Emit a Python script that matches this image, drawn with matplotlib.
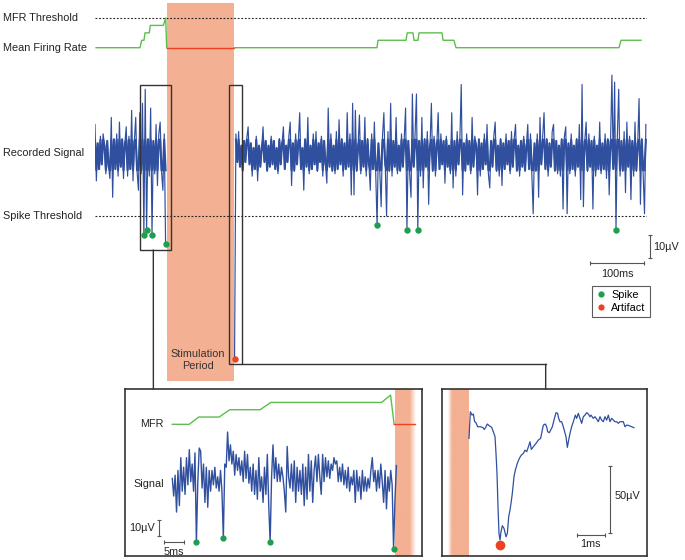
import numpy as np
import matplotlib.pyplot as plt
import matplotlib.transforms as mtrans
from matplotlib.patches import Rectangle, ConnectionPatch
from matplotlib.lines import Line2D

plt.rcParams['font.family'] = ['Liberation Sans', 'DejaVu Sans']
plt.rcParams['font.size'] = 7.8

# ---- data ----
# recorded signal in uV, one sample every 2.5 ms
sig_dt = 2.5
sig_pre_t0 = 0.0
sig_pre = [13, -11, 5, -6, 8, -4, 9, 4, -8, 6,
           -5, -10, 16, -18, 7, -6, 9, -9, 14, -5,
           7, -10, 5, 12, -9, 8, -6, 19, -11, 6,
           16, -7, -15, 18, -8, 22, -34, 28, -32, 7,
           -9, 20, -34, 6, -8, 13, -13, 9, 14, -7,
           -15, 9, -38]
sig_post_t0 = 257.0
sig_post = [-87, 9, -3, 10, -5, 4, -7, 6, -3, 7,
            12, -4, 5, -9, 3, -6, 8, -11, 4, -5,
            3, 12, -3, 6, -7, 4, -5, 8, -4, 6,
            -6, 3, -8, 7, -4, 5, 12, -6, 4, -3,
            8, 14, -13, 5, -7, 9, -4, 6, 18, -6,
            3, -15, 7, -5, 16, -8, 4, -6, 9, -4,
            10, -7, 5, -3, 8, -9, 6, -4, -12, 20,
            -5, 9, -7, 4, -8, 10, -6, 15, -4, 7,
            -9, 5, -6, 18, -5, 9, -17, 22, -17, 19,
            -7, 4, 17, -8, 6, -5, 16, -9, 7, -4,
            -15, 9, -6, 14, -8, -30, 5, -7, -22, 8,
            18, -4, -26, 10, -7, 22, -9, 6, -5, 16,
            -8, 4, -7, 9, -5, 7, 20, -32, 6, -8,
            -18, 26, -5, 9, 26, -32, 6, -9, 16, -14,
            7, -5, 10, -21, 4, 22, -7, 8, -9, 5,
            18, -6, 9, -4, 6, -12, 8, -5, 4, -8,
            18, -14, 6, -9, 10, -4, 7, 30, -17, 5,
            -7, 9, -4, 6, -8, 16, -5, 8, 4, -17,
            7, -9, 5, -6, 9, -4, 13, -8, -14, 6,
            -5, 8, 14, -7, 4, -9, 7, -13, 5, -6,
            9, -4, 6, -8, 10, -5, 7, 13, -7, 4,
            -9, 6, -5, 8, -7, 4, 13, -6, 9, -8,
            -25, 5, -7, 9, -18, 16, -4, 8, 18, -6,
            7, -9, 5, -5, 10, 13, -7, 6, -8, 4,
            -9, 7, -23, 8, 12, -25, 5, -8, 9, -6,
            4, -9, 7, -5, 13, -19, 30, -22, 6, 14,
            -7, 9, -5, 6, -23, 8, -9, 4, -6, 14,
            -8, 5, -6, 9, -10, 7, -17, 6, 34, -6,
            31, -32, 8, 28, -9, 6, -7, 10, -16, 14,
            -5, 8, -19, 6, -9, 14, -7, 5, 24, -21,
            7, -8, -25, 13]

stim_start, stim_end = 132.0, 256.0
spike_thresh = -26.0
artifact_level = -60.0
mfr_thresh = 10.0

# mean firing rate (arbitrary units, threshold = 10)
mfr_pre_t = [2, 82.9, 86, 90.2, 92.1, 100, 101.8, 125.8, 130.2, 132]
mfr_pre_v = [0, 0, 2.5, 2.5, 5, 5, 7.5, 7.5, 10, 0]
mfr_stim_t = [132, 256]
mfr_stim_v = [0, 0]
mfr_post_t = [256, 519.3, 521.2, 572.7, 575, 585.6, 587.5, 594.8, 596.7,
              639, 641, 661.1, 664.8, 965, 968.7, 1005.5]
mfr_post_v = [0, 0, 2.5, 2.5, 5, 5, 2.5, 2.5, 5, 5, 2.5, 2.5, 0, 0, 2.5, 2.5]

# zoomed window before the stimulation (ms from window start, uV)
zoom_dt = 0.36
zoom_sig = [1, -10, 3, -20, 6, -16, 14, -7, 8, -9,
            14, -3, 19, -1, 10, -7, 17, -39, -1, 20,
            18, -5, 10, -14, 8, -17, 6, -7, 6, -3,
            8, -5, 2, -7, 6, -7, -36, 10, 8, 30,
            12, 22, 10, 18, 3, 16, 6, 14, 3, 12,
            -1, 18, 1, 16, -2, 8, -7, 10, -9, 6,
            -12, 14, -7, 2, -14, 8, -9, 16, -16, -39,
            2, 22, 1, 14, -1, 10, -1, 8,
            2, -7, -20, 21, 2, -5, 10, -7, 12, -14,
            8, -7, 6, -9, 10, -16, 8, -12, 16, -7,
            12, -14, 6, 15, -1, 16, 2, -9, 16, -1,
            14, 2, 12, 1, 10, 6, 14, 10, 12, -1,
            8, -1, 10, -3, 6, -5, 8, -7, 2, -3,
            6, -14, 6, -7, 2, -12, 6, -7, 2, -7,
            1, -5, 6, 14, -1, 6, -7, 6, -5, 10,
            -1, -14, 6, -18, 2, -7, 6, -3, -43, -12,
            9]
zoom_thresh = -30.0
zoom_mfr_t = [0, 4.3, 6.7, 11.9, 14.6, 22.3, 25, 53.1, 55.4, 56.3]
zoom_mfr_v = [0, 0, 2.5, 2.5, 5, 5, 7.5, 7.5, 10, 0]
zoom_mfr_stim_t = [56.3, 61.6]
zoom_mfr_stim_v = [0, 0]

# artifact right after the stimulation (ms, uV)
art_t = [0, 0.047, 0.106, 0.153, 0.2, 0.247, 0.306, 0.389, 0.483, 0.542,
         0.601, 0.648, 0.718, 0.801, 0.86, 0.919, 0.954, 0.989, 1.025, 1.06,
         1.095, 1.131, 1.178, 1.237, 1.307, 1.355, 1.402, 1.449, 1.484, 1.531,
         1.59, 1.637, 1.708, 1.779, 1.849, 1.92, 1.979, 2.038, 2.108, 2.155,
         2.203, 2.273, 2.367, 2.45, 2.532, 2.627, 2.697, 2.744, 2.78, 2.839,
         2.886, 2.945, 3.004, 3.074, 3.133, 3.168, 3.216, 3.274, 3.333, 3.38,
         3.428, 3.475, 3.522, 3.569, 3.628, 3.687, 3.757, 3.804, 3.863, 3.922,
         3.981, 4.04, 4.099, 4.158, 4.217, 4.276, 4.311, 4.393, 4.452, 4.511,
         4.57, 4.629, 4.688, 4.747, 4.806, 4.865, 4.923, 4.982, 5.041, 5.1,
         5.159, 5.218, 5.277, 5.336, 5.395, 5.454, 5.512, 5.571, 5.63, 5.689,
         5.748, 5.83]
art_v = [-12.3, 7.4, 4.9, 5.7, 0, -0.7, -3.7, -3.7, -4.2, -5.7,
         -3.7, -1.7, -3.0, -4.2, -7.4, -11.1, -23.4, -38.2, -62.9, -82.6,
         -87.5, -81.4, -76.9, -78.9, -85.1, -82.6, -70.3, -65.3, -60.4, -53,
         -40.7, -35.8, -30.8, -27.1, -24.7, -23.4, -21, -22.2, -18, -14.8,
         -20.5, -18.5, -16, -13.6, -12.3, -2.5, -1.7, -3.7, -7.4, -8.1,
         -6.2, -3.7, 1.2, 6.7, 6.2, 2.5, 0, 0, -3.7, -7.4,
         -11.1, -19, -13.6, -8.6, -3.7, 0, 4.9, 2.5, 6.2, 2.5,
         -1.2, 3.7, 4.9, 6.7, 5.7, 3.7, 4.9, 2.5, 3.7, 2,
         0, 3.7, 1.2, 0, 3.7, 1.2, 4.9, 0, 2.5, 1.2,
         0, 0, -1.2, 0, 0, 0, -3.7, -2.5, -2.7, -3.2,
         -3.7, -4.4]

# ---- style ----
blue = '#30509f'
green_line = '#5cbf4c'
green_dot = '#1e9e4e'
red = '#ec4224'
pink = '#f4b092'
dark = '#333333'
grey = '#555555'
txt = '#222222'

W, H = 685, 560


def rect(x0, y0, x1, y1):
    return [x0 / W, 1 - y1 / H, (x1 - x0) / W, (y1 - y0) / H]


fig = plt.figure(figsize=(6.85, 5.6), dpi=100)

# ---- top overview ----
ax = fig.add_axes(rect(95, 3, 647, 381))
ax.set_xlim(0, 1016.6)
ax.set_ylim(-96.2, 64.7)
ax.axis('off')
ax_m = fig.add_axes(rect(95, 3, 647, 381), sharex=ax)
ax_m.set_ylim(-112.2, 15.05)
ax_m.axis('off')

ax.axvspan(stim_start, stim_end, color=pink, lw=0, zorder=0)

core_lim = 6.5  # dense part of the noise band drawn a bit heavier
for t0, sig in [(sig_pre_t0, sig_pre), (sig_post_t0, sig_post)]:
    s = np.array(sig, dtype=float)
    t = t0 + sig_dt * np.arange(len(s))
    ax.plot(t, s, color=blue, lw=0.85, zorder=2)
    core = s[1:] if t0 > 0 else s
    ax.plot(t[len(s) - len(core):], np.clip(core, -core_lim, core_lim),
            color=blue, lw=1.5, zorder=2)
    spk = (s < spike_thresh) & (s > artifact_level)
    art = s <= artifact_level
    ax.plot(t[spk], s[spk], 'o', color=green_dot, ms=4.6, mec='none', zorder=5)
    ax.plot(t[art], s[art], 'o', color=red, ms=4.6, mec='none', zorder=5)

ax.axhline(spike_thresh, color=txt, lw=0.8, ls=(0, (1.6, 1.6)), zorder=3)
ax_m.axhline(mfr_thresh, color=txt, lw=0.8, ls=(0, (1.6, 1.6)))
ax_m.plot(mfr_pre_t, mfr_pre_v, color=green_line, lw=1.0)
ax_m.plot(mfr_stim_t, mfr_stim_v, color=red, lw=1.0)
ax_m.plot(mfr_post_t, mfr_post_v, color=green_line, lw=1.0)

lab = mtrans.blended_transform_factory(fig.transFigure, ax.transData)
lab_m = mtrans.blended_transform_factory(fig.transFigure, ax_m.transData)
ax_m.text(3 / W, mfr_thresh, 'MFR Threshold', transform=lab_m, va='center', color=txt)
ax_m.text(3 / W, 0, 'Mean Firing Rate', transform=lab_m, va='center', color=txt)
ax.text(3 / W, 1, 'Recorded Signal', transform=lab, va='center', color=txt)
ax.text(3 / W, spike_thresh, 'Spike Threshold', transform=lab, va='center', color=txt)

ax.text(189.6, -87.4, 'Stimulation\nPeriod', ha='center', va='center',
        linespacing=1.25, color=dark)

# boxes marking the zoomed windows
ax.add_patch(Rectangle((83.4, -40.4), 57.1, 70.3, fill=False, ec=dark, lw=1.0, zorder=4))
ax.add_patch(Rectangle((247.3, -89.1), 22.9, 119.0, fill=False, ec=dark, lw=1.0, zorder=4))
ax.plot([270.2, 830], [-89.1, -89.1], color=dark, lw=1.0, zorder=4)

# scale bars
ax.plot([1022, 1022], [-34, -44], color=grey, lw=0.8, clip_on=False)
ax.plot([1022, 1022], [-34, -44], ls='none', marker='_', ms=3, mew=0.8, color=grey, clip_on=False)
ax.text(1028, -39, '10µV', va='center', ha='left', color=txt, clip_on=False)
ax.plot([911.6, 1011.6], [-46, -46], color=grey, lw=0.8)
ax.plot([911.6, 1011.6], [-46, -46], ls='none', marker='|', ms=3, mew=0.8, color=grey)
ax.text(961.6, -50.5, '100ms', ha='center', va='center', color=txt)

handles = [Line2D([], [], ls='none', marker='o', color=green_dot, ms=4.5, mec='none'),
           Line2D([], [], ls='none', marker='o', color=red, ms=4.5, mec='none')]
leg = fig.legend(handles, ['Spike', 'Artifact'], loc='upper left',
                 bbox_to_anchor=(592.3 / W, 1 - 285.7 / H), fancybox=False,
                 edgecolor=dark, handlelength=0.8, handletextpad=0.55,
                 borderpad=0.4, labelspacing=0.25, borderaxespad=0, fontsize=7.8)
leg.get_frame().set_linewidth(0.8)


def pink_band(a, t0, t1, prof_t, prof_a):
    xs = np.linspace(t0, t1, 300)
    alpha = np.interp(xs, prof_t, prof_a)
    img = np.zeros((1, len(xs), 4))
    img[..., :3] = plt.matplotlib.colors.to_rgb(pink)
    img[..., 3] = alpha
    y0, y1 = a.get_ylim()
    a.imshow(img, extent=[t0, t1, y0, y1], aspect='auto', zorder=0,
             interpolation='bilinear')


def frame(a):
    a.set_xticks([])
    a.set_yticks([])
    for sp in a.spines.values():
        sp.set_color(dark)
        sp.set_linewidth(1.2)


# ---- left zoom ----
ax_l = fig.add_axes(rect(125, 389, 421.7, 555.7))
ax_l.set_xlim(-12, 63.3)
ax_l.set_ylim(-47.3, 56.9)
frame(ax_l)
pink_band(ax_l, 56.5, 61.8, [56.5, 60.2, 61.8], [1, 1, 0])
ax_l.set_xlim(-12, 63.3)
ax_l.set_ylim(-47.3, 56.9)

zs = np.array(zoom_sig, dtype=float)
zt = zoom_dt * np.arange(len(zs))
ax_l.plot(zt, zs, color=blue, lw=1.0, zorder=2)
zspk = zs < zoom_thresh
ax_l.plot(zt[zspk], zs[zspk], 'o', color=green_dot, ms=4.5, mec='none', zorder=5)

ax_lm = fig.add_axes(rect(125, 389, 421.7, 555.7), sharex=ax_l)
ax_lm.set_ylim(-45, 12.1)
ax_lm.axis('off')
ax_lm.plot(zoom_mfr_t, zoom_mfr_v, color=green_line, lw=1.0)
ax_lm.plot(zoom_mfr_stim_t, zoom_mfr_stim_v, color=red, lw=1.0)
ax_lm.text(-2.3, 0, 'MFR', ha='right', va='center', color=txt)
ax_l.text(-2.1, -2.3, 'Signal', ha='right', va='center', color=txt)

ax_l.plot([-3.3, -3.3], [-25, -35], color=grey, lw=0.8)
ax_l.plot([-3.3, -3.3], [-25, -35], ls='none', marker='_', ms=3, mew=0.8, color=grey)
ax_l.text(-4.4, -30, '10µV', ha='right', va='center', color=txt)
ax_l.plot([-2, 3], [-38.9, -38.9], color=grey, lw=0.8)
ax_l.plot([-2, 3], [-38.9, -38.9], ls='none', marker='|', ms=3, mew=0.8, color=grey)
ax_l.text(0.5, -44.8, '5ms', ha='center', va='center', color=txt)

# ---- right zoom ----
ax_r = fig.add_axes(rect(441.7, 389, 646.7, 556))
ax_r.set_xlim(-0.965, 6.28)
ax_r.set_ylim(-99.3, 24.2)
frame(ax_r)
pink_band(ax_r, -0.75, -0.025, [-0.75, -0.61, -0.025], [0, 1, 1])
ax_r.set_xlim(-0.965, 6.28)
ax_r.set_ylim(-99.3, 24.2)

ax_r.plot(art_t, art_v, color=blue, lw=0.9, zorder=2)
imin = int(np.argmin(art_v))
ax_r.plot(art_t[imin], art_v[imin] - 4, 'o', color=red, ms=7, mec='none', zorder=5)

ax_r.plot([4.98, 4.98], [-32.5, -82.5], color=grey, lw=0.8)
ax_r.plot([4.98, 4.98], [-32.5, -82.5], ls='none', marker='_', ms=3, mew=0.8, color=grey)
ax_r.text(5.13, -55, '50µV', ha='left', va='center', color=txt)
ax_r.plot([3.8, 4.8], [-83.8, -83.8], color=grey, lw=0.8)
ax_r.plot([3.8, 4.8], [-83.8, -83.8], ls='none', marker='|', ms=3, mew=0.8, color=grey)
ax_r.text(4.3, -90.5, '1ms', ha='center', va='center', color=txt)

# ---- connectors ----
fig.add_artist(ConnectionPatch(xyA=(107.4, -40.4), coordsA=ax.transData,
                               xyB=(-4.8, 1), coordsB=ax_l.get_xaxis_transform(),
                               color=dark, lw=1.0))
fig.add_artist(ConnectionPatch(xyA=(830, -89.1), coordsA=ax.transData,
                               xyB=(2.71, 1), coordsB=ax_r.get_xaxis_transform(),
                               color=dark, lw=1.0))

fig.savefig('out.png', dpi=100)
